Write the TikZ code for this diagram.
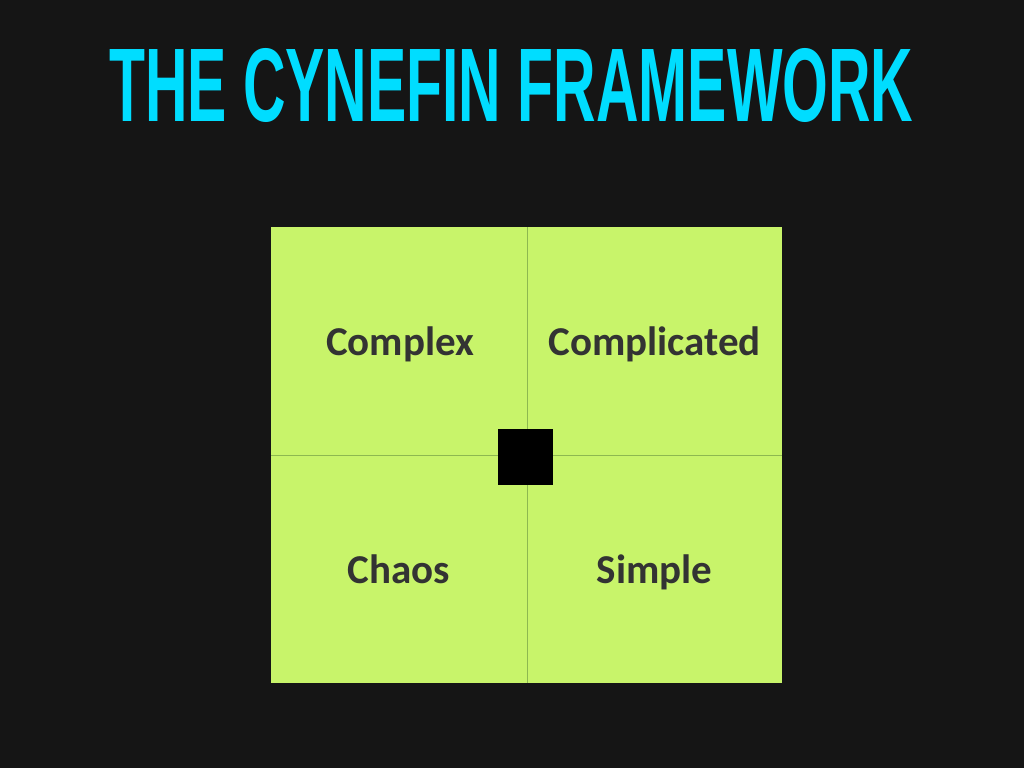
\documentclass[tikz,border=0pt]{standalone}
\usepackage{fontspec}
\setmainfont{Carlito}
\newfontfamily\titlefont{Liberation Sans}
\definecolor{bgdark}{HTML}{151515}
\definecolor{titlecyan}{HTML}{00DDFF}
\definecolor{cellgreen}{HTML}{C8F46A}
\definecolor{linegreen}{HTML}{8DB850}
\definecolor{labelgray}{HTML}{333333}
\tikzset{
  cell/.style={inner sep=0pt, anchor=base,
    text=labelgray, font=\fontsize{41}{48}\selectfont\bfseries},
  divider/.style={draw=linegreen, line width=0.8pt},
}
\begin{document}
\begin{tikzpicture}[x=1pt,y=-1pt]
\fill[bgdark] (0,0) rectangle (1024,768);
\useasboundingbox (0,0) rectangle (1024,768);
\node[anchor=base west, inner sep=0pt, text=titlecyan] (title) at (109,121)
  {\resizebox{804pt}{73pt}{\titlefont\bfseries THE CYNEFIN FRAMEWORK}};
\fill[cellgreen] (271,227) rectangle (782,683);
\coordinate (top) at (527,227);
\coordinate (bottom) at (527,683);
\coordinate (left) at (271,455);
\coordinate (right) at (782,455);
\draw[divider] (top) -- (bottom);
\draw[divider] (left) -- (right);
\node[cell] (complex) at (400,355) {Complex};
\node[cell] (complicated) at (654.5,355) {Complicated};
\node[cell] (chaos) at (398.5,583) {Chaos};
\node[cell] (simple) at (654.5,583) {Simple};
\fill[black] (498,429) rectangle (553,485);
\end{tikzpicture}
\end{document}
